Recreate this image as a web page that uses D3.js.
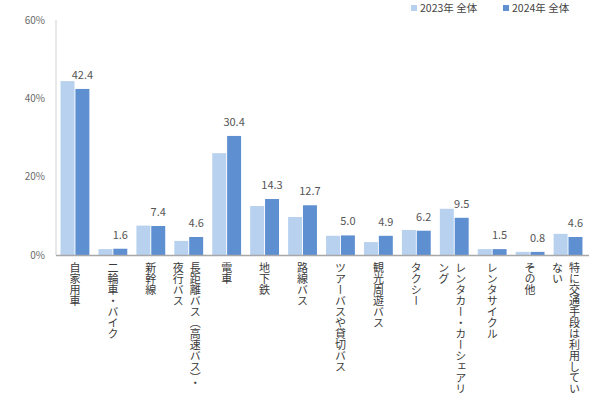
<!DOCTYPE html>
<html>
<head>
<meta charset="utf-8">
<script src="https://cdn.jsdelivr.net/npm/d3@7"></script>
<style>
  html, body { margin: 0; padding: 0; background: #fff; }
  svg { display: block; font-family: "Noto Sans CJK JP", "Noto Sans", sans-serif; }
  .vlabel { writing-mode: vertical-rl; text-orientation: mixed; }
</style>
</head>
<body>
<svg id="chart" width="595" height="401"></svg>
<script>
// Transport modes used (line breaks mark where the vertical labels wrap)
const categories = [
  "自家用車",
  "二輪車・バイク",
  "新幹線",
  "長距離バス（高速バス）・\n夜行バス",
  "電車",
  "地下鉄",
  "路線バス",
  "ツアーバスや貸切バス",
  "観光周遊バス",
  "タクシー",
  "レンタカー・カーシェアリ\nング",
  "レンタサイクル",
  "その他",
  "特に交通手段は利用してい\nない"
];
const seriesNames = ["2023年 全体", "2024年 全体"];
const values2023 = [44.4, 1.5, 7.5, 3.6, 26.0, 12.5, 9.7, 4.9, 3.3, 6.4, 11.8, 1.5, 0.8, 5.4];
const values2024 = [42.4, 1.6, 7.4, 4.6, 30.4, 14.3, 12.7, 5.0, 4.9, 6.2, 9.5, 1.5, 0.8, 4.6];
const yTicks = [0, 20, 40, 60];
const colors = ["#b7d1ef", "#5e8fd1"];

const svg = d3.select("#chart");
const margin = { left: 56, right: 8, top: 20, bottom: 146 };
const W = 595, H = 401;

const x = d3.scaleBand().domain(d3.range(categories.length))
  .range([margin.left, W - margin.right]).paddingInner(0.24).paddingOuter(0.12);
const xs = d3.scaleBand().domain([0, 1]).range([0, x.bandwidth()]).paddingInner(0.06);
const y = d3.scaleLinear().domain([0, 60]).range([H - margin.bottom, margin.top]);

// y axis line
svg.append("line")
  .attr("x1", margin.left).attr("x2", margin.left)
  .attr("y1", y(60)).attr("y2", y(0))
  .attr("stroke", "#d9d9d9").attr("stroke-width", 1.2);

// y tick labels
svg.append("g").selectAll("text").data(yTicks).join("text")
  .attr("x", margin.left - 11).attr("y", d => y(d)).attr("dy", "0.35em")
  .attr("text-anchor", "end").attr("font-size", 10).attr("fill", "#6a6a6a")
  .text(d => d + "%");

// bars
const series = [values2023, values2024];
const gBars = svg.append("g");
series.forEach((vals, si) => {
  gBars.append("g").selectAll("rect").data(vals).join("rect")
    .attr("x", (d, i) => x(i) + xs(si))
    .attr("y", d => y(d))
    .attr("width", xs.bandwidth())
    .attr("height", d => y(0) - y(d))
    .attr("fill", colors[si]);
});

// value labels for 2024
svg.append("g").selectAll("text").data(values2024).join("text")
  .attr("x", (d, i) => x(i) + xs(1) + xs.bandwidth() / 2)
  .attr("y", d => y(d) - 10)
  .attr("text-anchor", "middle").attr("font-size", 11).attr("fill", "#555")
  .text(d => d.toFixed(1));

// x axis line
svg.append("line")
  .attr("x1", margin.left).attr("x2", W - margin.right + 2)
  .attr("y1", y(0) + 0.5).attr("y2", y(0) + 0.5)
  .attr("stroke", "#a8a8a8").attr("stroke-width", 1.5);

// vertical category labels
const colGap = 17;
categories.forEach((c, i) => {
  const lines = c.split("\n");
  const cx = x(i) + x.bandwidth() / 2;
  const n = lines.length;
  lines.forEach((ln, li) => {
    const off = n === 1 ? 0 : (n - 1) * colGap / 2 - li * colGap - 2;
    svg.append("text")
      .attr("class", "vlabel")
      .attr("x", cx + off).attr("y", y(0) + 7)
      .attr("font-size", 11).attr("fill", "#3a3a3a")
      .text(ln);
  });
});

// legend
const legendX = [411, 503];
seriesNames.forEach((s, i) => {
  svg.append("rect").attr("x", legendX[i]).attr("y", 5).attr("width", 6).attr("height", 6)
    .attr("fill", colors[i]);
  svg.append("text").attr("x", legendX[i] + 9).attr("y", 8).attr("dy", "0.35em")
    .attr("font-size", 10.5).attr("fill", "#444").text(s);
});
</script>
</body>
</html>
